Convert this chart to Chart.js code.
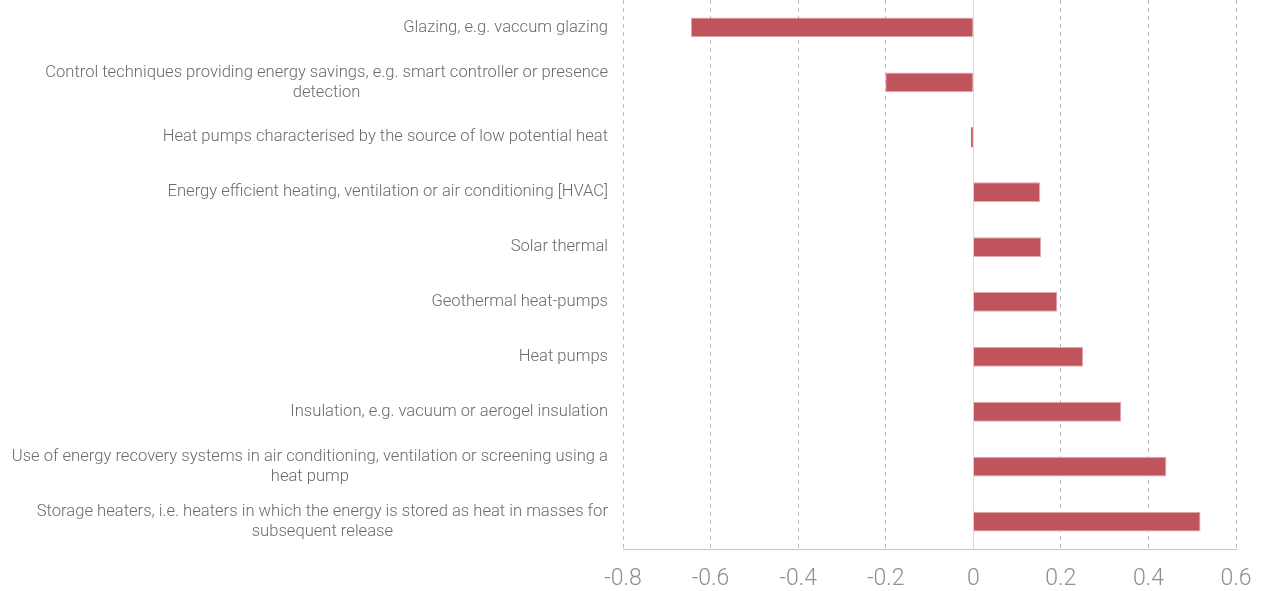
<!DOCTYPE html>
<html>
<head>
<meta charset="utf-8">
<script src="https://cdn.jsdelivr.net/npm/chart.js@4.4.0/dist/chart.umd.min.js"></script>
<style>
  html, body { margin: 0; padding: 0; background: #fff; }
  #wrap { width: 1263px; height: 591px; position: relative; }
</style>
</head>
<body>
<div id="wrap"><canvas id="chart"></canvas></div>
<script>
// Categorías (líneas ya partidas como en la figura)
const CATEGORIES = [
  ['Glazing, e.g. vaccum glazing'],
  ['Control techniques providing energy savings, e.g. smart controller or presence', 'detection'],
  ['Heat pumps characterised by the source of low potential heat'],
  ['Energy efficient heating, ventilation or air conditioning [HVAC]'],
  ['Solar thermal'],
  ['Geothermal heat-pumps'],
  ['Heat pumps'],
  ['Insulation, e.g. vacuum or aerogel insulation'],
  ['Use of energy recovery systems in air conditioning, ventilation or screening using a', 'heat pump'],
  ['Storage heaters, i.e. heaters in which the energy is stored as heat in masses for', 'subsequent release'],
];
const VALUES = [-0.645, -0.201, -0.005, 0.153, 0.155, 0.192, 0.251, 0.338, 0.441, 0.519];
const X_MIN = -0.8;
const X_MAX = 0.6;
const X_STEP = 0.2;

const LABEL_FONT = '300 16.6px Roboto, sans-serif';

// Etiquetas de categoría: bloque alineado a la derecha, líneas centradas entre sí
const categoryLabels = {
  id: 'categoryLabels',
  afterDraw(chart) {
    const { ctx, scales: { y, x } } = chart;
    const right = x.left - 15;
    ctx.save();
    ctx.font = LABEL_FONT;
    ctx.fillStyle = '#6b6b6b';
    ctx.textAlign = 'center';
    ctx.textBaseline = 'middle';
    CATEGORIES.forEach((lines, i) => {
      const w = Math.max(...lines.map(l => ctx.measureText(l).width));
      const cx = right - w / 2;
      const cy = y.getPixelForValue(i);
      const lh = 20;
      const top = cy - (lines.length - 1) * lh / 2;
      lines.forEach((l, j) => ctx.fillText(l, cx, top + j * lh));
    });
    ctx.restore();
  },
};

// Línea del cero, continua
const zeroLine = {
  id: 'zeroLine',
  beforeDatasetsDraw(chart) {
    const { ctx, chartArea, scales: { x } } = chart;
    const px = Math.round(x.getPixelForValue(0)) + 0.5;
    ctx.save();
    ctx.strokeStyle = '#d9d9d9';
    ctx.lineWidth = 1;
    ctx.beginPath();
    ctx.moveTo(px, chartArea.top);
    ctx.lineTo(px, chartArea.bottom);
    ctx.stroke();
    ctx.restore();
  },
};

new Chart(document.getElementById('chart'), {
  type: 'bar',
  data: {
    labels: CATEGORIES.map(c => c.join(' ')),
    datasets: [{
      data: VALUES,
      backgroundColor: '#c0545c',
      borderColor: '#e3a9ae',
      // barras casi nulas: sin borde, para que se vean rojas
      borderWidth: c => (Math.abs(c.raw) < 0.02 ? 0 : 1),
      barPercentage: 0.6,
      categoryPercentage: 0.6,
    }],
  },
  options: {
    indexAxis: 'y',
    responsive: true, maintainAspectRatio: false,
    animation: false,
    layout: { padding: { top: 0, right: 27, bottom: 0, left: 0 } },
    plugins: { legend: { display: false }, tooltip: { enabled: false } },
    scales: {
      x: {
        min: X_MIN, max: X_MAX,
        afterFit: s => { s.height = 42; s.paddingLeft = 0; s.paddingRight = 0; },
        afterBuildTicks: s => {
          const t = [];
          for (let v = X_MIN; v <= X_MAX + 1e-9; v += X_STEP) t.push({ value: Math.round(v * 10) / 10 });
          s.ticks = t;
        },
        grid: {
          drawTicks: false,
          color: c => (Math.abs(c.tick.value) < 1e-9 ? 'rgba(0,0,0,0)' : '#bdbdbd'),
        },
        border: { display: true, color: '#c4c4c4', width: 1, dash: [4, 4] },
        ticks: {
          padding: 16,
          color: '#8f8f8f',
          font: { family: 'Roboto, sans-serif', size: 23, weight: 300 },
          callback: v => (Math.abs(v) < 1e-9 ? '0' : String(Math.round(v * 10) / 10)),
        },
      },
      y: {
        afterFit: s => { s.width = 623; },
        grid: { display: false },
        border: { display: false },
        ticks: { display: false },
      },
    },
  },
  plugins: [categoryLabels, zeroLine],
});
</script>
</body>
</html>
